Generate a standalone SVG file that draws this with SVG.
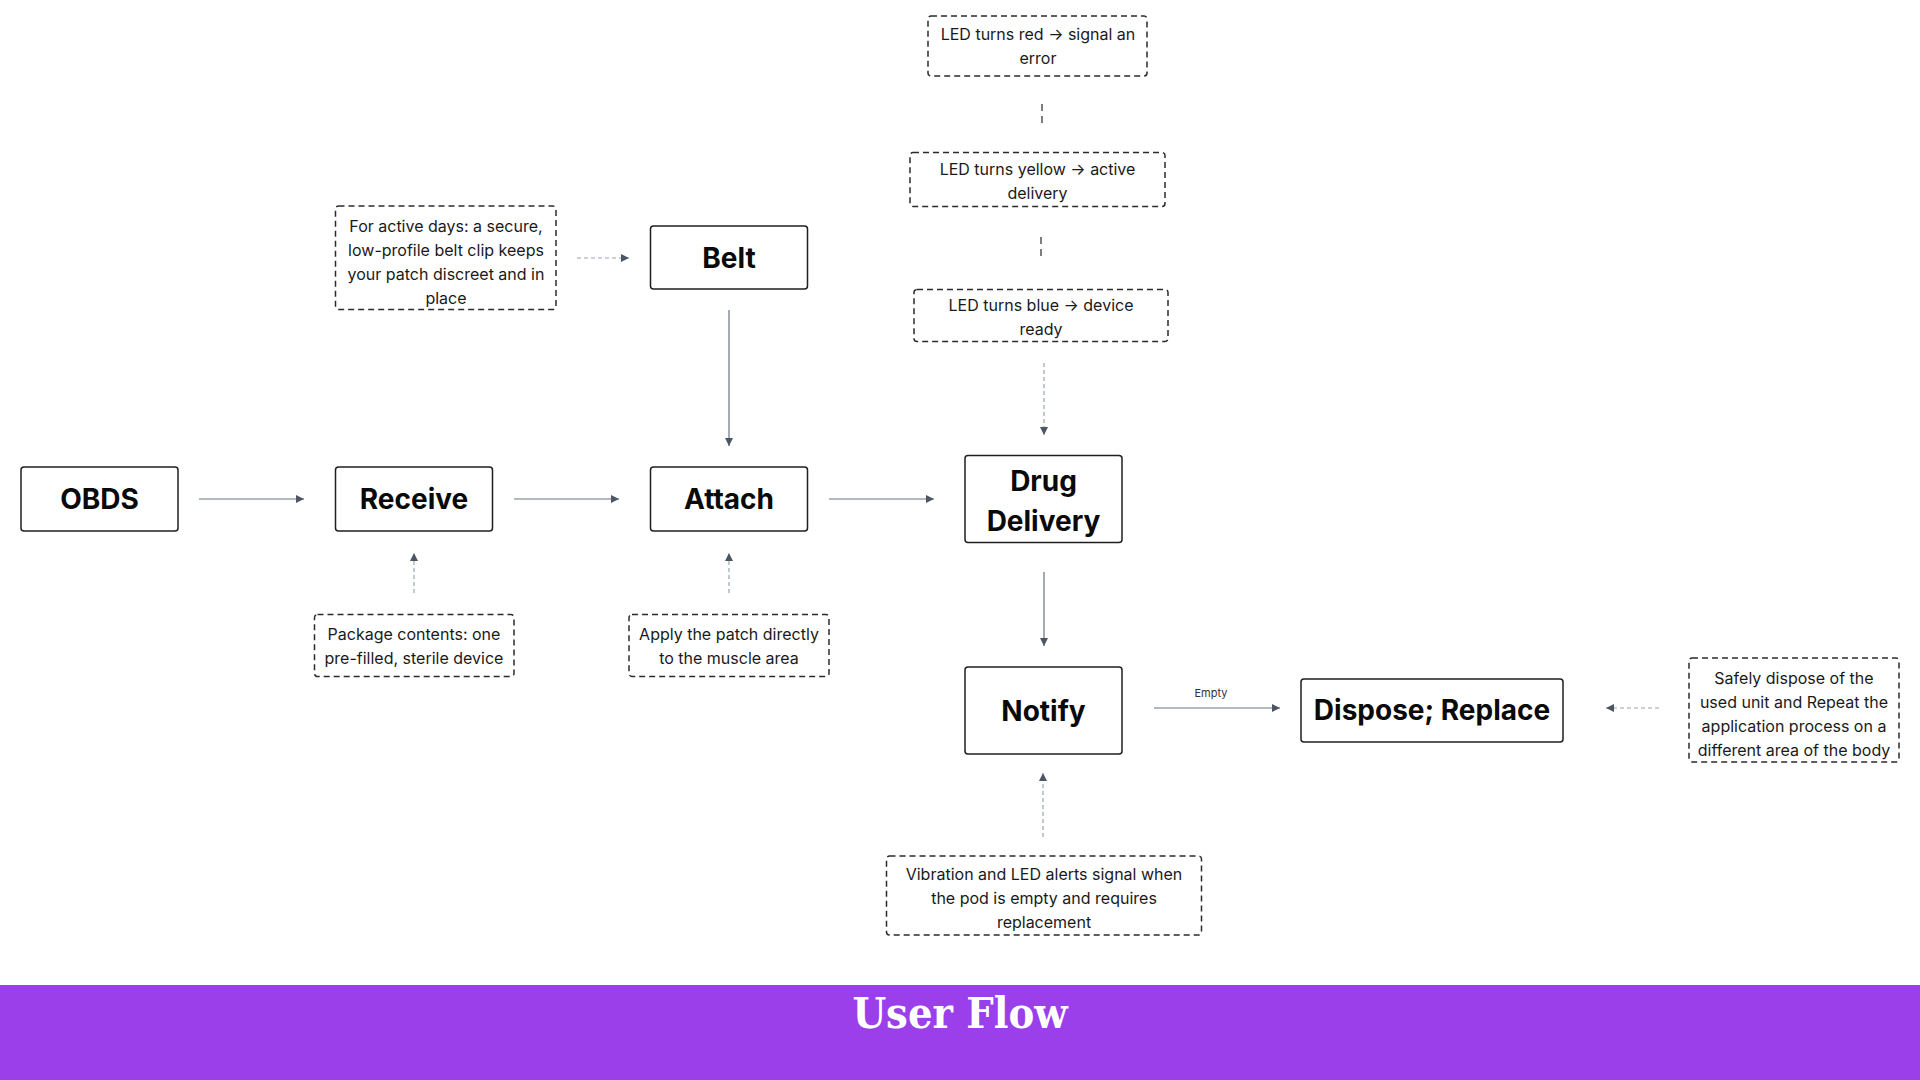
<svg xmlns="http://www.w3.org/2000/svg" width="1920" height="1080" viewBox="0 0 1920 1080">
<defs>
<style>
.node rect{fill:#fff;stroke:#1f1f1f;stroke-width:1.5}
.node text{font-family:Inter,"Liberation Sans",sans-serif;font-weight:700;font-size:28px;fill:#0a0a0a;text-anchor:middle;dominant-baseline:central}
.note rect{fill:#fff;stroke:#2b2b2b;stroke-width:1.5;stroke-dasharray:6 4}
.note text{font-family:Inter,"Liberation Sans",sans-serif;font-size:16px;fill:#1a1a1a;text-anchor:middle;dominant-baseline:central}
.solid{stroke:#6b7280;stroke-width:1.2;fill:none}
.dash{stroke:#9ca3af;stroke-width:1.2;fill:none;stroke-dasharray:4 3}
.dashdark{stroke:#3a3a3a;stroke-width:1.3;fill:none;stroke-dasharray:7 5}
.lbl{font-family:Inter,"Liberation Sans",sans-serif;font-size:11px;fill:#333;text-anchor:middle;dominant-baseline:central}
.title{font-family:"DejaVu Serif Condensed","DejaVu Serif",serif;font-weight:700;font-size:43px;fill:#fff;text-anchor:middle}
</style>
<marker id="ah" viewBox="0 0 10 10" refX="10" refY="5" markerWidth="8" markerHeight="8" markerUnits="userSpaceOnUse" orient="auto"><path d="M0,0 L10,5 L0,10 z" fill="#4b5563"/></marker>
</defs>
<rect x="0" y="0" width="1920" height="1080" fill="#fff"/>

<g id="connectors">
<line class="dashdark" x1="1042" y1="104" x2="1042" y2="124"/>
<line class="dashdark" x1="1041" y1="237" x2="1041" y2="257"/>
<line class="dash" x1="1044" y1="363" x2="1044" y2="435" marker-end="url(#ah)"/>
<line class="dash" x1="577" y1="258" x2="629" y2="258" marker-end="url(#ah)"/>
<line class="solid" x1="729" y1="310" x2="729" y2="446" marker-end="url(#ah)"/>
<line class="solid" x1="199" y1="499" x2="304" y2="499" marker-end="url(#ah)"/>
<line class="solid" x1="514" y1="499" x2="619" y2="499" marker-end="url(#ah)"/>
<line class="solid" x1="829" y1="499" x2="934" y2="499" marker-end="url(#ah)"/>
<line class="solid" x1="1044" y1="572" x2="1044" y2="646" marker-end="url(#ah)"/>
<line class="solid" x1="1154" y1="708" x2="1280" y2="708" marker-end="url(#ah)"/>
<text class="lbl" x="1211" y="693">Empty</text>
<line class="dash" x1="1659" y1="708" x2="1606" y2="708" marker-end="url(#ah)"/>
<line class="dash" x1="414" y1="593" x2="414" y2="553" marker-end="url(#ah)"/>
<line class="dash" x1="729" y1="593" x2="729" y2="553" marker-end="url(#ah)"/>
<line class="dash" x1="1043" y1="837" x2="1043" y2="773" marker-end="url(#ah)"/>
</g>

<g id="obds" class="node"><rect x="21" y="467" width="157" height="64" rx="3"/><text x="99.5" y="499">OBDS</text></g>
<g id="receive" class="node"><rect x="335.5" y="467" width="157" height="64" rx="3"/><text x="414" y="499">Receive</text></g>
<g id="attach" class="node"><rect x="650.5" y="467" width="157" height="64" rx="3"/><text x="729" y="499">Attach</text></g>
<g id="belt" class="node"><rect x="650.5" y="226" width="157" height="63" rx="3"/><text x="729" y="258">Belt</text></g>
<g id="drug-delivery" class="node"><rect x="965" y="455.5" width="157" height="87" rx="3"/><text x="1043.5" y="481">Drug</text><text x="1043.5" y="521">Delivery</text></g>
<g id="notify" class="node"><rect x="965" y="667" width="157" height="87" rx="3"/><text x="1043.5" y="710.5">Notify</text></g>
<g id="dispose-replace" class="node"><rect x="1301" y="679" width="262" height="63" rx="3"/><text x="1432" y="710">Dispose; Replace</text></g>

<g id="note-led-red" class="note"><rect x="928" y="16" width="219" height="60" rx="3"/><text x="1038" y="34">LED turns red → signal an</text><text x="1038" y="58">error</text></g>
<g id="note-led-yellow" class="note"><rect x="910" y="152.5" width="255" height="54" rx="3"/><text x="1037.5" y="168.5">LED turns yellow → active</text><text x="1037.5" y="192.5">delivery</text></g>
<g id="note-led-blue" class="note"><rect x="914" y="289.5" width="254" height="52" rx="3"/><text x="1041" y="305">LED turns blue → device</text><text x="1041" y="329">ready</text></g>
<g id="note-belt" class="note"><rect x="335.5" y="206" width="220.5" height="103.5" rx="3"/><text x="446" y="225.5">For active days: a secure,</text><text x="446" y="249.5">low-profile belt clip keeps</text><text x="446" y="273.5">your patch discreet and in</text><text x="446" y="297.5">place</text></g>
<g id="note-package" class="note"><rect x="314.5" y="614.5" width="199.5" height="62" rx="3"/><text x="414" y="634">Package contents: one</text><text x="414" y="658">pre-filled, sterile device</text></g>
<g id="note-apply" class="note"><rect x="629" y="614.5" width="200" height="62" rx="3"/><text x="729" y="634">Apply the patch directly</text><text x="729" y="658">to the muscle area</text></g>
<g id="note-vibration" class="note"><rect x="886.5" y="856" width="315" height="79" rx="3"/><text x="1044" y="874">Vibration and LED alerts signal when</text><text x="1044" y="898">the pod is empty and requires</text><text x="1044" y="922">replacement</text></g>
<g id="note-safely" class="note"><rect x="1689" y="658" width="210" height="104" rx="3"/><text x="1794" y="678">Safely dispose of the</text><text x="1794" y="702">used unit and Repeat the</text><text x="1794" y="726">application process on a</text><text x="1794" y="750">different area of the body</text></g>

<g id="footer">
<rect x="0" y="985" width="1920" height="95" fill="#9b3fea"/>
<text class="title" x="960" y="1028">User Flow</text>
</g>
</svg>
